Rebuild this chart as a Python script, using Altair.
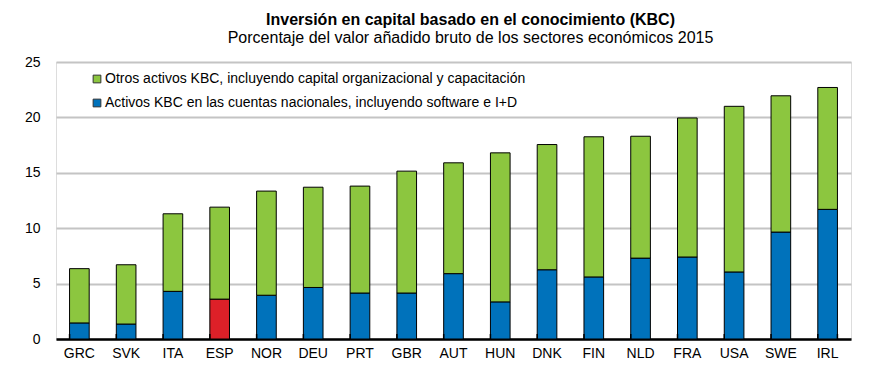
import altair as alt
import pandas as pd

countries = ["GRC", "SVK", "ITA", "ESP", "NOR", "DEU", "PRT", "GBR", "AUT",
             "HUN", "DNK", "FIN", "NLD", "FRA", "USA", "SWE", "IRL"]
# Activos KBC en las cuentas nacionales (software e I+D)
national = [1.45, 1.35, 4.3, 3.6, 3.95, 4.65, 4.15, 4.15, 5.9,
            3.35, 6.25, 5.6, 7.3, 7.4, 6.05, 9.65, 11.7]
# Otros activos KBC (capital organizacional y capacitación)
other = [4.9, 5.35, 7.0, 8.3, 9.4, 9.05, 9.65, 11.0, 10.0,
         13.45, 11.3, 12.65, 11.0, 12.55, 14.95, 12.3, 11.0]

lab_other = "Otros activos KBC, incluyendo capital organizacional y capacitación"
lab_nat = "Activos KBC en las cuentas nacionales, incluyendo software e I+D"
lab_esp = "ESP"

rows = []
for c, n, o in zip(countries, national, other):
    rows.append({"country": c, "serie": lab_esp if c == "ESP" else lab_nat, "value": n, "ord": 0})
    rows.append({"country": c, "serie": lab_other, "value": o, "ord": 1})
df = pd.DataFrame(rows)
ticks_df = pd.DataFrame({"country": countries})

FONT = "Liberation Sans"

xscale = alt.Scale(paddingInner=0.58, paddingOuter=0.29)

bars = alt.Chart(df).mark_bar(stroke="black", strokeWidth=1).encode(
    x=alt.X("country:N", sort=countries, scale=xscale, title=None,
            axis=alt.Axis(labelAngle=0, labelFontSize=14, labelColor="black",
                          labelFont=FONT, labelPadding=7, ticks=False,
                          domainColor="black", domainWidth=2.5)),
    y=alt.Y("value:Q", stack="zero", title=None,
            scale=alt.Scale(domain=[0, 25], nice=False),
            axis=alt.Axis(values=[0, 5, 10, 15, 20, 25], domain=False, ticks=False,
                          labelFontSize=14, labelColor="black", labelFont=FONT,
                          labelPadding=16, gridColor="#c4c4c4", gridWidth=2)),
    color=alt.Color("serie:N",
                    scale=alt.Scale(domain=[lab_other, lab_nat, lab_esp],
                                    range=["#8cc63f", "#0072bb", "#dd2028"]),
                    legend=alt.Legend(values=[lab_other, lab_nat], title=None,
                                      orient="none", legendX=34, legendY=10,
                                      symbolType="square", symbolSize=60,
                                      symbolStrokeColor="#333333", symbolStrokeWidth=1,
                                      labelFontSize=14, labelFont=FONT,
                                      labelColor="black", rowPadding=10,
                                      labelLimit=600, symbolOffset=0, labelOffset=1)),
    order=alt.Order("ord:Q", sort="ascending"),
)

tick_rules = alt.Chart(ticks_df).mark_rule(color="black", strokeWidth=1.5).encode(
    x=alt.X("country:N", sort=countries, bandPosition=0),
    y=alt.datum(0),
    y2=alt.datum(0.45),
)
end_rule = alt.Chart(ticks_df).transform_filter(
    alt.datum.country == countries[-1]
).mark_rule(color="black", strokeWidth=1.5).encode(
    x=alt.X("country:N", sort=countries, bandPosition=1),
    y=alt.datum(0),
    y2=alt.datum(0.45),
)

chart = alt.layer(bars, tick_rules, end_rule).properties(
    width=795,
    height=277,
    title=alt.TitleParams(
        text="Inversión en capital basado en el conocimiento (KBC)",
        subtitle="Porcentaje del valor añadido bruto de los sectores económicos  2015",
        anchor="middle", font=FONT, fontSize=16, fontWeight="bold", color="black",
        subtitleFont=FONT, subtitleFontSize=16, subtitleColor="black",
        subtitlePadding=2, offset=9, dx=17,
    ),
    padding={"left": 48, "top": 54, "right": 10, "bottom": 22},
    autosize=alt.AutoSizeParams(type="none"),
).configure_view(stroke=None).configure(background="white")

chart.save("out.html", embed_options={"renderer": "svg", "actions": False})
